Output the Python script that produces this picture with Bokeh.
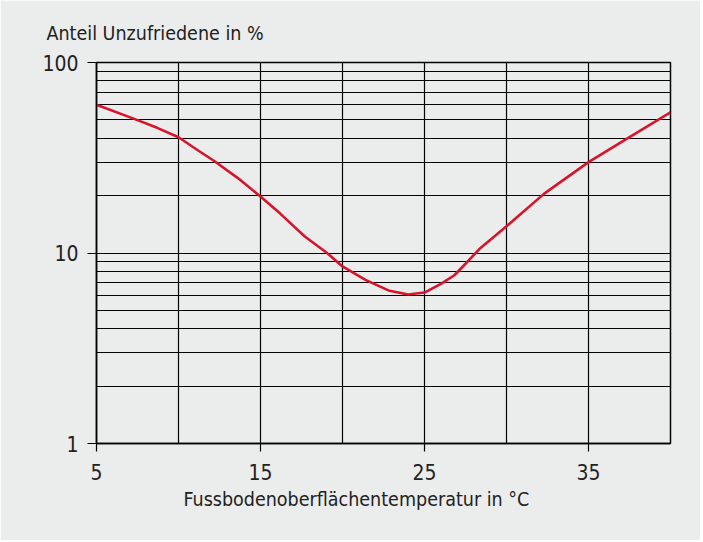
from bokeh.plotting import figure
from bokeh.models import FixedTicker, Range1d, CustomJSTickFormatter, Title
from bokeh.embed import file_html
from bokeh.resources import INLINE

# Data
temp = [5, 7.3, 8.7, 10, 11.2, 12.2, 13.6, 15, 16.2, 17.7, 19, 20, 21.4, 22.8, 24, 25,
        26, 26.8, 27.4, 28.4, 30, 32.3, 35, 37.4, 40]
unzufrieden = [60, 50.6, 45.4, 40.5, 34.5, 30.3, 24.8, 19.8, 16.1, 12.2, 10.1, 8.5, 7.23, 6.36, 6.06, 6.2,
               6.89, 7.62, 8.6, 10.6, 13.8, 20.5, 30.0, 40.1, 54.8]

x_ticks = [5, 15, 25, 35]
x_grid = [5, 10, 15, 20, 25, 30, 35, 40]
y_ticks = [1, 10, 100]
y_grid = [1, 2, 3, 4, 5, 6, 7, 8, 9, 10, 20, 30, 40, 50, 60, 70, 80, 90, 100]

title_text = "Anteil Unzufriedene in %"
xlabel_text = "Fussbodenoberflächentemperatur in °C"

BG = "#ebecec"
FONT = "DejaVu Sans Condensed, Liberation Sans, sans-serif"
RED = "#d7142b"
TXT = "#222222"

p = figure(width=700, height=540, y_axis_type="log",
           x_range=Range1d(5, 40), y_range=Range1d(1, 100),
           output_backend="svg", toolbar_location=None,
           min_border_left=96, min_border_right=30, min_border_top=62, min_border_bottom=97)
p.background_fill_color = BG
p.border_fill_color = BG
p.outline_line_color = "black"
p.outline_line_width = 1.5

p.title.text = title_text
p.title.align = "left"
p.title.offset = -50
p.title.standoff = 36
p.title.text_font = FONT
p.title.text_font_size = "19.5px"
p.title.text_font_style = "normal"
p.title.text_color = TXT

xlab = Title(text=xlabel_text, align="left", offset=87, standoff=6,
             text_font=FONT, text_font_size="19.5px", text_font_style="normal", text_color=TXT)
p.add_layout(xlab, "below")

p.xgrid.ticker = FixedTicker(ticks=x_grid)
p.ygrid.ticker = FixedTicker(ticks=y_grid)
for g in (p.xgrid, p.ygrid):
    g.grid_line_color = "black"
    g.grid_line_width = 1.2
    g.grid_line_alpha = 1.0

p.xaxis.ticker = FixedTicker(ticks=x_ticks, minor_ticks=[])
p.yaxis.ticker = FixedTicker(ticks=y_ticks, minor_ticks=[])
p.yaxis.formatter = CustomJSTickFormatter(code="return tick.toFixed(0);")
for ax in (p.xaxis, p.yaxis):
    ax.axis_line_color = "black"
    ax.axis_line_width = 1.5
    ax.major_tick_line_color = "black"
    ax.major_tick_line_width = 1.2
    ax.major_tick_in = 0
    ax.minor_tick_line_color = None
    ax.major_label_text_font = FONT
    ax.major_label_text_font_size = "21px"
    ax.major_label_text_color = TXT
p.xaxis.major_tick_out = 8
p.yaxis.major_tick_out = 9
p.xaxis.major_label_standoff = 12
p.yaxis.major_label_standoff = 9

p.line(temp, unzufrieden, line_color=RED, line_width=2.6, line_join="round")

open("out.html", "w").write(file_html(p, INLINE))
